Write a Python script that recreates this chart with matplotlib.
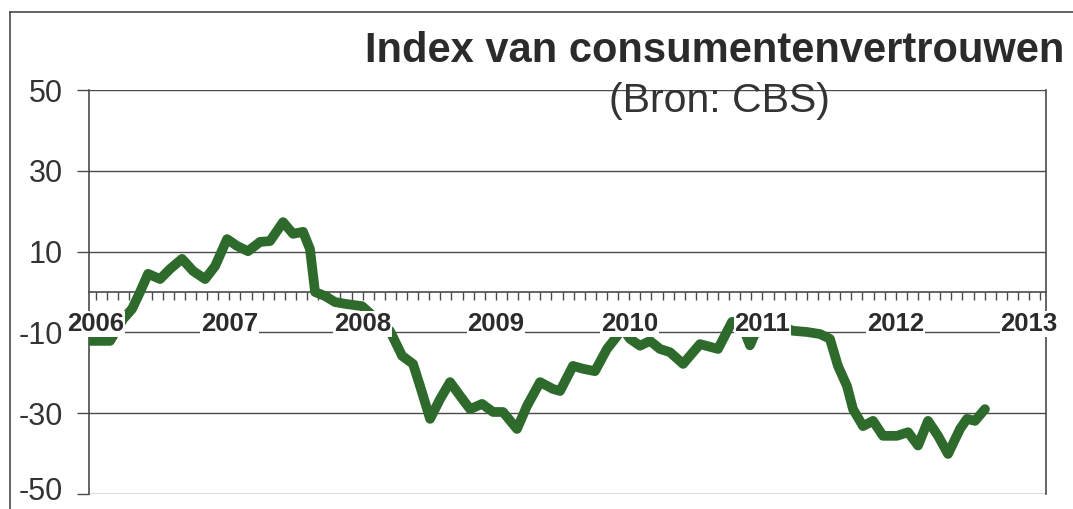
import matplotlib.pyplot as plt
import matplotlib.transforms as mtransforms
from matplotlib.lines import Line2D
import numpy as np

plt.rcParams['font.family'] = ['Liberation Sans', 'DejaVu Sans']

# consumer confidence index (CBS)
dates = [2005.947, 2006.105, 2006.203, 2006.270, 2006.330, 2006.390, 2006.480, 2006.555,
         2006.645, 2006.728, 2006.818, 2006.893, 2006.983, 2007.058, 2007.140, 2007.230,
         2007.305, 2007.403, 2007.478, 2007.553, 2007.605, 2007.643, 2007.718, 2007.793,
         2007.883, 2007.995, 2008.206, 2008.296, 2008.378, 2008.431, 2008.506, 2008.581,
         2008.656, 2008.731, 2008.806, 2008.896, 2008.978, 2009.053, 2009.158, 2009.233,
         2009.331, 2009.428, 2009.481, 2009.578, 2009.653, 2009.743, 2009.833, 2009.893,
         2009.950, 2010.006, 2010.081, 2010.156, 2010.231, 2010.306, 2010.404, 2010.531,
         2010.666, 2010.771, 2010.839, 2010.906, 2010.981, 2011.094, 2011.229, 2011.334,
         2011.431, 2011.506, 2011.566, 2011.634, 2011.679, 2011.754, 2011.829, 2011.904,
         2012.009, 2012.092, 2012.167, 2012.242, 2012.317, 2012.392, 2012.482, 2012.534,
         2012.594, 2012.669]
index_values = [-12.1, -12.1, -6.7, -4.2, 0.0, 4.5, 3.2, 5.7,
                8.2, 5.2, 3.2, 6.4, 13.1, 11.4, 10.1, 12.4,
                12.6, 17.3, 14.4, 14.9, 10.6, 0.0, -1.0, -2.5,
                -3.0, -3.5, -9.7, -15.8, -17.8, -23.3, -31.4, -26.5,
                -22.3, -25.7, -29.0, -27.7, -29.7, -29.7, -33.9, -28.2,
                -22.3, -24.0, -24.5, -18.3, -19.0, -19.6, -14.1, -11.6,
                -9.0, -11.6, -13.3, -12.1, -14.1, -14.9, -17.8, -12.9,
                -14.1, -7.4, -7.5, -13.2, -7.5, -8.0, -9.6, -9.9,
                -10.4, -11.6, -18.3, -23.3, -29.0, -33.2, -31.9, -35.6,
                -35.6, -34.7, -38.0, -31.9, -35.6, -40.1, -33.9, -31.4,
                -31.9, -29.0]

years = [2006, 2007, 2008, 2009, 2010, 2011, 2012, 2013]
y_ticks = [50, 30, 10, -10, -30, -50]

title = "Index van consumentenvertrouwen"
subtitle = "(Bron: CBS)"

grey = "#4a4a4a"
green = "#2e6a2c"

fig = plt.figure(figsize=(10.73, 5.09), dpi=100)
ax = fig.add_axes([89 / 1073, 1 - 494 / 509, (1046 - 89) / 1073, (494 - 90) / 509])

ax.set_xlim(2005.947, 2013.127)
ax.set_ylim(-50, 50)

# frame: left/right spines, zero axis with monthly ticks
ax.spines["top"].set_visible(False)
ax.spines["bottom"].set_position(("data", 0))
for side in ["left", "right", "bottom"]:
    ax.spines[side].set_color(grey)
    ax.spines[side].set_linewidth(1.2)

for v in y_ticks:
    ax.axhline(v, color=grey, lw=1.0, zorder=1)

ax.set_yticks(y_ticks)
ax.set_yticklabels([str(v) for v in y_ticks])
ax.tick_params(axis="y", direction="out", length=9, width=1.0, color=grey,
               pad=10, labelsize=22, labelcolor="#333333")
# lowest label sits right on the image edge; nudge it up a touch
lowest = ax.get_yticklabels()[-1]
lowest.set_transform(lowest.get_transform()
                     + mtransforms.ScaledTranslation(0, 4 / 72, fig.dpi_scale_trans))

ax.set_xticks([])
ax.set_xticks(np.arange(2006, 2013.13, 1 / 12), minor=True)
ax.tick_params(axis="x", which="minor", direction="out", length=6, width=1.0, color=grey)

ax.plot(dates, index_values, color=green, lw=7, solid_joinstyle="round",
        solid_capstyle="round", zorder=3)

for yr in years:
    ax.text(yr, -7.9, str(yr), ha="center", va="center", fontsize=18.5, fontweight="bold",
            color="#2b2b2b", zorder=5, clip_on=False,
            bbox=dict(facecolor="white", edgecolor="none", pad=0.5))

# outer chart border
fig.add_artist(Line2D([10 / 1073, 10 / 1073], [0, 1 - 12 / 509], color=grey, lw=1.2))
fig.add_artist(Line2D([10 / 1073, 1], [1 - 12 / 509, 1 - 12 / 509], color=grey, lw=1.2))

fig.text(365 / 1073, 1 - 62 / 509, title, ha="left", va="baseline", fontsize=30,
         fontweight="bold", color="#2b2b2b")
fig.text(719 / 1073, 1 - 101 / 509, subtitle, ha="center", va="center", fontsize=29.5,
         color="#333333")

fig.savefig("out.png", dpi=100)
